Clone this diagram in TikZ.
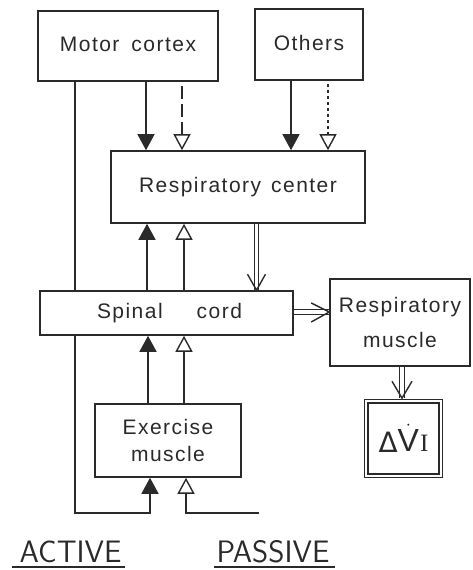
\documentclass[tikz,border=0pt]{standalone}
\usepackage{fontspec}
\newfontfamily\labf[LetterSpace=7]{Liberation Sans}
\newfontfamily\plainf{Liberation Sans}
\newfontfamily\dvf{DejaVu Sans}
\newfontfamily\serf{Liberation Serif}
\usetikzlibrary{arrows.meta,calc,backgrounds}
\definecolor{ink}{HTML}{2A2A2A}
\begin{document}
\begin{tikzpicture}[x=1pt,y=-1pt,
  box/.style={draw=ink, line width=1.6pt, fill=white, inner sep=0pt, text=ink, align=center},
  lab/.style={font=\labf\fontsize{21}{24}\selectfont},
  conn/.style={draw=ink, line width=1.4pt},
  fa/.style={conn, -{Triangle[length=16pt,width=17pt]}},
  oa/.style={conn, -{Triangle[open,length=16pt,width=17pt,fill=white]}},
  dbl/.style={draw=ink, double=white, double distance=3.4pt, line width=1.2pt},
  chev/.style={draw=ink, line width=1.4pt, line join=miter},
  big/.style={font=\sffamily\fontsize{31}{31}\selectfont, text=ink, inner sep=0pt, anchor=base},
  uline/.style={draw=ink, line width=1.6pt},
]
\useasboundingbox (0,0) rectangle (472,570);

% boxes
\node[box, lab, minimum width=180pt, minimum height=70pt] (mc) at (128,46) {\raisebox{3pt}{Motor\hspace{12pt}cortex}};
\node[box, lab, minimum width=108pt, minimum height=71pt] (ot) at (309,44.5) {\raisebox{3pt}{Others}};
\node[box, lab, minimum width=254pt, minimum height=72pt] (rc) at (238,187) {Respiratory\hspace{10pt}center};
\node[box, lab, minimum width=253pt, minimum height=44pt] (sc) at (166.5,313) {\hspace*{6pt}Spinal\hspace{34pt}cord};
\node[box, lab, font=\labf\fontsize{21}{35}\selectfont, minimum width=140pt, minimum height=87pt] (rm) at (400,322.5) {Respiratory\\muscle};
\node[box, lab, font=\labf\fontsize{21}{27}\selectfont, minimum width=146pt, minimum height=73pt] (em) at (168,440.5) {Exercise\\muscle};
\node[draw=ink, double=white, double distance=2.2pt, line width=1.3pt, fill=white, inner sep=0pt,
      minimum width=74.5pt, minimum height=74.5pt, text=ink] (dv) at (403.5,438.5)
  {\raisebox{-1pt}{\dvf\fontsize{28}{28}\selectfont Δ}\kern0pt{\plainf\fontsize{32}{32}\selectfont$\dot{\hbox{V}}$}\kern1pt{\serf\fontsize{25}{25}\selectfont I}};

% left active path behind spinal cord
\coordinate (ac) at (150,513);
\coordinate (pe) at (259,513);
\coordinate (pc) at (186,513);
\begin{scope}[on background layer]
\draw[fa] ([xshift=-53pt]mc.south) |- (ac) -- ([xshift=-18pt]em.south);
\end{scope}
\draw[oa] (pe) -- (pc) -- ([xshift=18pt]em.south);

% motor cortex and others to respiratory center
\draw[fa] ([xshift=18pt]mc.south) -- ([xshift=-92pt]rc.north);
\draw[oa, dash pattern=on 13pt off 5pt, shorten <=4pt] ([xshift=54pt]mc.south) -- ([xshift=-56pt]rc.north);
\draw[fa] ([xshift=-18pt]ot.south) -- ([xshift=53pt]rc.north);
\draw[oa, dash pattern=on 3pt off 3pt, shorten <=3pt] ([xshift=19pt]ot.south) -- ([xshift=90pt]rc.north);

% spinal cord to respiratory center
\draw[fa] ([xshift=-19.5pt]sc.north) -- ([xshift=-91pt]rc.south);
\draw[oa] ([xshift=17.5pt]sc.north) -- ([xshift=-54pt]rc.south);

% exercise muscle to spinal cord
\draw[fa] ([xshift=-20pt]em.north) -- ([xshift=-18.5pt]sc.south);
\draw[oa] ([xshift=16pt]em.north) -- ([xshift=17.5pt]sc.south);

% double arrows
\draw[dbl] ([xshift=18.5pt]rc.south) -- ([xshift=90pt]sc.north) coordinate (t1);
\draw[chev] ($(t1)+(-9,-16)$) -- (t1) -- ($(t1)+(9,-16)$);
\draw[dbl] ([yshift=1pt]sc.east) -- ([yshift=10.5pt]rm.west) coordinate (t2);
\draw[chev] ($(t2)+(-18,-9)$) -- (t2) -- ($(t2)+(-18,10)$);
\draw[dbl] ([xshift=2pt]rm.south) -- ([xshift=-1.5pt,yshift=2.4pt]dv.north) coordinate (t3);
\draw[chev] ($(t3)+(-10,-17)$) -- (t3) -- ($(t3)+(10,-17)$);

% labels
\node[big] (act) at (70.5,562) {ACTIVE};
\node[big] (pas) at (273,562) {PASSIVE};
\draw[uline] ([xshift=-7pt,yshift=-5pt]act.base west) -- ([xshift=3pt,yshift=-5pt]act.base east);
\draw[uline] ([xshift=-2pt,yshift=-5pt]pas.base west) -- ([xshift=5pt,yshift=-5pt]pas.base east);
\end{tikzpicture}
\end{document}
